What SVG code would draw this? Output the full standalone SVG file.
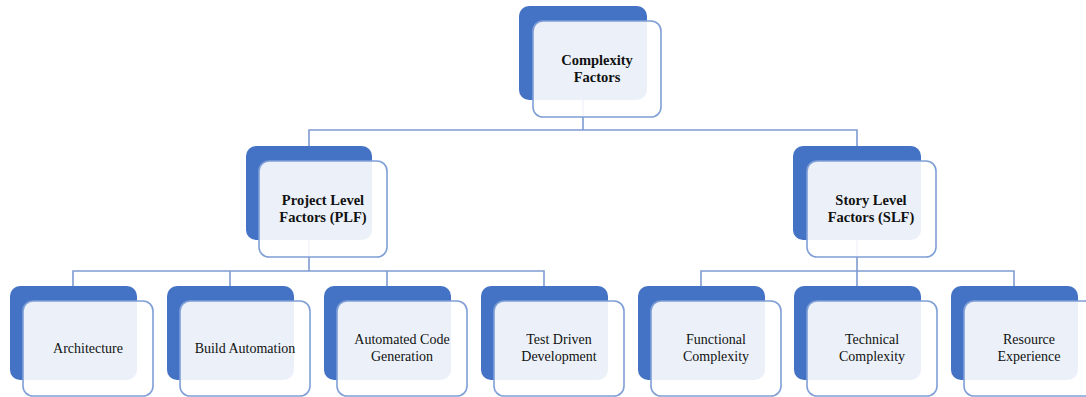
<svg xmlns="http://www.w3.org/2000/svg" width="1086" height="397" viewBox="0 0 1086 397">
  <style>
    .back { fill: #4472C4; }
    .front { fill: #FFFFFF; fill-opacity: 0.9; stroke: #7F9FD6; stroke-width: 1.6; }
    .link { fill: none; stroke: #7F9BD2; stroke-width: 1.6; }
    .head { font-family: "Liberation Serif", "Times New Roman", serif; font-size: 14.5px; font-weight: bold; fill: #111; text-anchor: middle; }
    .leaf { font-family: "Liberation Serif", "Times New Roman", serif; font-size: 14px; fill: #111; text-anchor: middle; }
  </style>

  <!-- connectors (drawn first so the translucent cards sit over them) -->
  <g id="connectors">
    <path class="link" d="M583 100 V130 M309 146 V130 H857 V146"/>
    <path class="link" d="M309 240 V271 M73 286 V271 H544 V286 M230 271 V286 M387 271 V286"/>
    <path class="link" d="M857 240 V271 M701 286 V271 H1014 V286 M857 271 V286"/>
  </g>

  <!-- root -->
  <g id="complexity-factors">
    <rect class="back" x="519" y="6" width="128" height="94" rx="10"/>
    <rect class="front" x="533" y="21" width="128" height="96" rx="10"/>
    <text class="head" x="597" y="65">Complexity</text>
    <text class="head" x="597" y="82">Factors</text>
  </g>

  <!-- second level -->
  <g id="plf">
    <rect class="back" x="246" y="146" width="126" height="94" rx="10"/>
    <rect class="front" x="259" y="161" width="128" height="96" rx="10"/>
    <text class="head" x="323" y="205">Project Level</text>
    <text class="head" x="323" y="222">Factors (PLF)</text>
  </g>
  <g id="slf">
    <rect class="back" x="793" y="146" width="128" height="94" rx="10"/>
    <rect class="front" x="807" y="161" width="129" height="96" rx="10"/>
    <text class="head" x="871" y="205">Story Level</text>
    <text class="head" x="871" y="222">Factors (SLF)</text>
  </g>

  <!-- project level leaves -->
  <g id="architecture">
    <rect class="back" x="10" y="286" width="127" height="94" rx="10"/>
    <rect class="front" x="23" y="301" width="130" height="95" rx="10"/>
    <text class="leaf" x="88" y="353">Architecture</text>
  </g>
  <g id="build-automation">
    <rect class="back" x="167" y="286" width="127" height="94" rx="10"/>
    <rect class="front" x="180" y="301" width="130" height="95" rx="10"/>
    <text class="leaf" x="245" y="353">Build Automation</text>
  </g>
  <g id="automated-code-generation">
    <rect class="back" x="324" y="286" width="127" height="94" rx="10"/>
    <rect class="front" x="337" y="301" width="130" height="95" rx="10"/>
    <text class="leaf" x="402" y="344">Automated Code</text>
    <text class="leaf" x="402" y="361">Generation</text>
  </g>
  <g id="test-driven-development">
    <rect class="back" x="481" y="286" width="127" height="94" rx="10"/>
    <rect class="front" x="494" y="301" width="130" height="95" rx="10"/>
    <text class="leaf" x="559" y="344">Test Driven</text>
    <text class="leaf" x="559" y="361">Development</text>
  </g>

  <!-- story level leaves -->
  <g id="functional-complexity">
    <rect class="back" x="638" y="286" width="127" height="94" rx="10"/>
    <rect class="front" x="651" y="301" width="130" height="95" rx="10"/>
    <text class="leaf" x="716" y="344">Functional</text>
    <text class="leaf" x="716" y="361">Complexity</text>
  </g>
  <g id="technical-complexity">
    <rect class="back" x="794" y="286" width="127" height="94" rx="10"/>
    <rect class="front" x="807" y="301" width="130" height="95" rx="10"/>
    <text class="leaf" x="872" y="344">Technical</text>
    <text class="leaf" x="872" y="361">Complexity</text>
  </g>
  <g id="resource-experience">
    <rect class="back" x="951" y="286" width="127" height="94" rx="10"/>
    <rect class="front" x="964" y="301" width="130" height="95" rx="10"/>
    <text class="leaf" x="1029" y="344">Resource</text>
    <text class="leaf" x="1029" y="361">Experience</text>
  </g>
</svg>
